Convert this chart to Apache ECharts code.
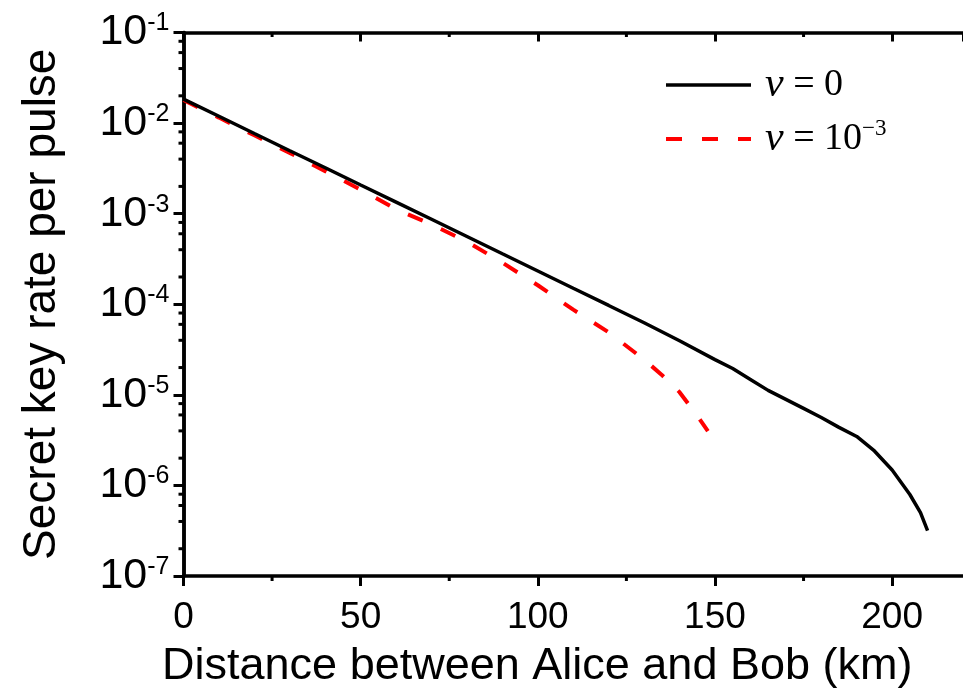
<!DOCTYPE html>
<html>
<head>
<meta charset="utf-8">
<script src="https://cdn.jsdelivr.net/npm/echarts@6/dist/echarts.min.js"></script>
<style>
html,body{margin:0;padding:0;background:#fff;}
#chart{width:963px;height:694px;}
</style>
</head>
<body>
<div id="chart"></div>
<script>
// ---- data ----
const distNu0 = [0,10,20,30,40,50,60,70,80,90,100,110,120,130,140,150,155,160,165,170,175,180,185,190,195,200,205,208,210];
const rateNu0 = [1.84e-2,1.19e-2,7.67e-3,4.95e-3,3.21e-3,2.07e-3,1.34e-3,8.67e-4,5.60e-4,3.61e-4,2.33e-4,1.50e-4,9.70e-5,6.24e-5,3.95e-5,2.45e-5,1.95e-5,1.48e-5,1.12e-5,8.91e-6,7.08e-6,5.62e-6,4.37e-6,3.47e-6,2.40e-6,1.48e-6,7.94e-7,5.01e-7,3.16e-7];
const distNu3 = [0,10,20,30,40,50,60,70,80,90,100,110,120,130,135,140,145,148];
const rateNu3 = [1.80e-2,1.15e-2,7.33e-3,4.68e-3,2.95e-3,1.84e-3,1.12e-3,7.59e-4,4.90e-4,2.88e-4,1.62e-4,8.71e-5,4.90e-5,2.45e-5,1.66e-5,1.07e-5,5.89e-6,3.98e-6];
const seriesNames = ['nu0','nu3'];
const legendLabels = ['{i|\u03BD}{t| = 0}', '{i|\u03BD}{t| = 10}{s|\u22123}'];
const xMajorTicks = [0,50,100,150,200];
const xMinorTicks = [25,75,125,175];
const yExponents = [-7,-6,-5,-4,-3,-2,-1];
const yMinorMantissas = [2,4,6,8];
const xTitle = 'Distance between Alice and Bob (km)';
const yTitle = 'Secret key rate per pulse';

const FONT = 'Liberation Sans, Arial, sans-serif';
const SERIF = 'Liberation Serif, Times New Roman, serif';
const chart = echarts.init(document.getElementById('chart'));

const axisLineStyle = {color:'#000', width:3.5};
const option = {
  animation:false,
  backgroundColor:'#fff',
  grid:{left:183.5, top:32.5, right:-5, bottom:117},
  legend:{
    orient:'vertical', left:664, top:64, padding:0,
    itemWidth:85, itemHeight:24, itemGap:11,
    itemStyle:{opacity:0},
    data:[
      {name:seriesNames[0], lineStyle:{width:3.5, color:'#000', type:'solid'}},
      {name:seriesNames[1], lineStyle:{width:4, color:'#ff0000', type:[16,20]}}
    ],
    formatter:function(name){ return legendLabels[seriesNames.indexOf(name)]; },
    textStyle:{
      color:'#000', fontFamily:SERIF, fontSize:38, padding:[0,0,0,9],
      rich:{
        i:{fontFamily:SERIF, fontStyle:'italic', fontSize:42, color:'#000', lineHeight:44},
        t:{fontFamily:SERIF, fontSize:38, color:'#000', lineHeight:44},
        s:{fontFamily:SERIF, fontSize:23, color:'#000', verticalAlign:'top', lineHeight:24}
      }
    }
  },
  xAxis:[{
    type:'value', min:0, max:220, interval:50, position:'bottom',
    axisLine:{lineStyle:axisLineStyle},
    axisTick:{inside:false, length:10, lineStyle:{color:'#000', width:3}},
    axisLabel:{color:'#000', fontFamily:FONT, fontSize:37, margin:23, showMaxLabel:false},
    splitLine:{show:false},
    name:xTitle, nameLocation:'middle', nameGap:68,
    nameTextStyle:{color:'#000', fontFamily:FONT, fontSize:45, padding:[0,72,0,0]}
  },{
    type:'value', min:0, max:220, interval:50, position:'top',
    axisLine:{lineStyle:axisLineStyle},
    axisTick:{inside:true, length:9, lineStyle:{color:'#000', width:3}},
    axisLabel:{show:false}, splitLine:{show:false}
  }],
  yAxis:[{
    type:'log', logBase:10, min:1e-7, max:1e-1, position:'left',
    axisLine:{lineStyle:axisLineStyle},
    axisTick:{inside:false, length:10, lineStyle:{color:'#000', width:3}},
    axisLabel:{
      color:'#000', fontFamily:FONT, margin:14,
      formatter:function(v){ const e = Math.round(Math.log10(v)); return '{b|10}{s|' + (e<0?'-':'') + Math.abs(e) + '}'; },
      rich:{
        b:{fontFamily:FONT, fontSize:43, color:'#000'},
        s:{fontFamily:FONT, fontSize:25, color:'#000', verticalAlign:'top', padding:[0,0,18,0]}
      }
    },
    splitLine:{show:false},
    name:yTitle, nameLocation:'middle', nameGap:118,
    nameTextStyle:{color:'#000', fontFamily:FONT, fontSize:46}
  },{
    type:'log', logBase:10, min:1e-7, max:1e-1, position:'right',
    axisLine:{lineStyle:axisLineStyle},
    axisTick:{inside:true, length:10, lineStyle:{color:'#000', width:3}},
    axisLabel:{show:false}, splitLine:{show:false}
  }],
  series:[{
    name:'nu0', type:'line', xAxisIndex:0, yAxisIndex:0, symbol:'none', smooth:false,
    lineStyle:{color:'#000', width:3.5, type:'solid'}, itemStyle:{color:'#000'},
    data:distNu0.map((x,i)=>[x, rateNu0[i]]), z:3
  },{
    name:'nu3', type:'line', xAxisIndex:0, yAxisIndex:0, symbol:'none', smooth:false,
    lineStyle:{color:'#ff0000', width:4, type:[16,20]}, itemStyle:{color:'#ff0000'},
    data:distNu3.map((x,i)=>[x, rateNu3[i]]), z:2
  }]
};
chart.setOption(option);

// minor ticks placed through the library's scales
function addMinorTicks(){
  const els = [];
  const p0 = chart.convertToPixel({xAxisIndex:0, yAxisIndex:0}, [0, 1e-7]);
  const pTop = chart.convertToPixel({xAxisIndex:0, yAxisIndex:0}, [0, 1e-1]);
  const leftX = p0[0], bottomY = p0[1], topY = pTop[1];
  const ls = {stroke:'#000', lineWidth:3};
  yExponents.slice(0,-1).forEach(function(e){
    yMinorMantissas.forEach(function(m){
      const y = chart.convertToPixel({xAxisIndex:0, yAxisIndex:0}, [0, m*Math.pow(10,e)])[1];
      els.push({type:'line', shape:{x1:leftX-5, y1:y, x2:leftX, y2:y}, style:ls, silent:true});
    });
  });
  xMinorTicks.forEach(function(v){
    const x = chart.convertToPixel({xAxisIndex:0, yAxisIndex:0}, [v, 1e-7])[0];
    els.push({type:'line', shape:{x1:x, y1:bottomY, x2:x, y2:bottomY+5}, style:ls, silent:true});
    els.push({type:'line', shape:{x1:x, y1:topY, x2:x, y2:topY+4.5}, style:ls, silent:true});
  });
  chart.setOption({graphic:els});
}
addMinorTicks();
</script>
</body>
</html>
